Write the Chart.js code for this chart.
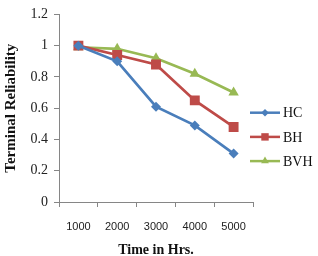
<!DOCTYPE html>
<html>
<head>
<meta charset="utf-8">
<script src="https://cdn.jsdelivr.net/npm/chart.js@4/dist/chart.umd.min.js"></script>
<style>
  html, body { margin: 0; padding: 0; background: #fff; }
  #wrap { width: 318px; height: 256px; }
</style>
</head>
<body>
<div id="wrap"><canvas id="c" width="318" height="256"></canvas></div>
<script>
// Verdier lest av fra bildet
const times = ["1000", "2000", "3000", "4000", "5000"];
const hc = [1.0, 0.90, 0.61, 0.49, 0.31];
const bh = [1.0, 0.94, 0.88, 0.65, 0.48];
const bvh = [0.99, 0.98, 0.92, 0.82, 0.70];
const yTicks = ["0", "0.2", "0.4", "0.6", "0.8", "1", "1.2"];

const SERIF = "'Liberation Serif', 'Times New Roman', serif";
const AXIS = "#868686";

// Egen forklaring til høyre, tegnet fra datasettene
const sideLegend = {
  id: "sideLegend",
  afterDraw(chart) {
    const ctx = chart.ctx;
    ctx.save();
    chart.data.datasets.forEach((ds, i) => {
      const y = 112.7 + i * 24.2;
      ctx.strokeStyle = ds.borderColor;
      ctx.lineWidth = 2.5;
      ctx.beginPath();
      ctx.moveTo(250, y);
      ctx.lineTo(280, y);
      ctx.stroke();
      ctx.fillStyle = ds.backgroundColor;
      Chart.helpers.drawPoint(ctx, {
        pointStyle: ds.pointStyle, radius: ds.pointRadius * 0.75, borderWidth: 0,
      }, 265, y);
      ctx.fillStyle = "#111";
      ctx.font = "14px " + SERIF;
      ctx.textBaseline = "middle";
      ctx.textAlign = "left";
      ctx.fillText(ds.label, 283, y + 1);
    });
    ctx.restore();
  },
};

function series(label, data, color, style, r) {
  return {
    label, data, borderColor: color, backgroundColor: color,
    borderWidth: 2.7, pointStyle: style, pointRadius: r, pointHoverRadius: r,
    pointBorderWidth: 0, tension: 0,
  };
}

new Chart(document.getElementById("c"), {
  type: "line",
  data: {
    labels: times,
    datasets: [
      series("HC", hc, "#4A7EBB", "rectRot", 5),
      series("BH", bh, "#BE4B48", "rect", 7),
      series("BVH", bvh, "#98B954", "triangle", 6),
    ],
  },
  options: {
    responsive: false, animation: false,
    layout: { padding: { left: 0, right: 65, top: 12, bottom: 0 } },
    plugins: { legend: { display: false }, tooltip: { enabled: false } },
    scales: {
      x: {
        offset: true,
        grid: { offset: true, drawOnChartArea: false, drawTicks: true, tickLength: 5, color: AXIS },
        border: { color: AXIS },
        ticks: { padding: 13, color: "#222", font: { family: "'Liberation Sans', Arial, sans-serif", size: 11 } },
        title: { display: true, text: "Time in Hrs.", color: "#111", padding: { top: 0, bottom: -3 },
          font: { family: SERIF, size: 14, weight: "bold" } },
        afterFit(s) { s.height = 54; },
      },
      y: {
        min: 0, max: 1.2,
        ticks: { stepSize: 0.2, padding: 6, color: "#222", font: { family: SERIF, size: 14 },
          callback: (v, i) => yTicks[i] },
        grid: { drawOnChartArea: false, drawTicks: true, tickLength: 5, color: AXIS },
        border: { color: AXIS },
        title: { display: true, text: "Terminal Reliability", color: "#111", padding: { top: 2, bottom: 0 },
          font: { family: SERIF, size: 15, weight: "bold" } },
        afterFit(s) { s.width = 59; },
      },
    },
  },
  plugins: [sideLegend],
});
</script>
</body>
</html>
